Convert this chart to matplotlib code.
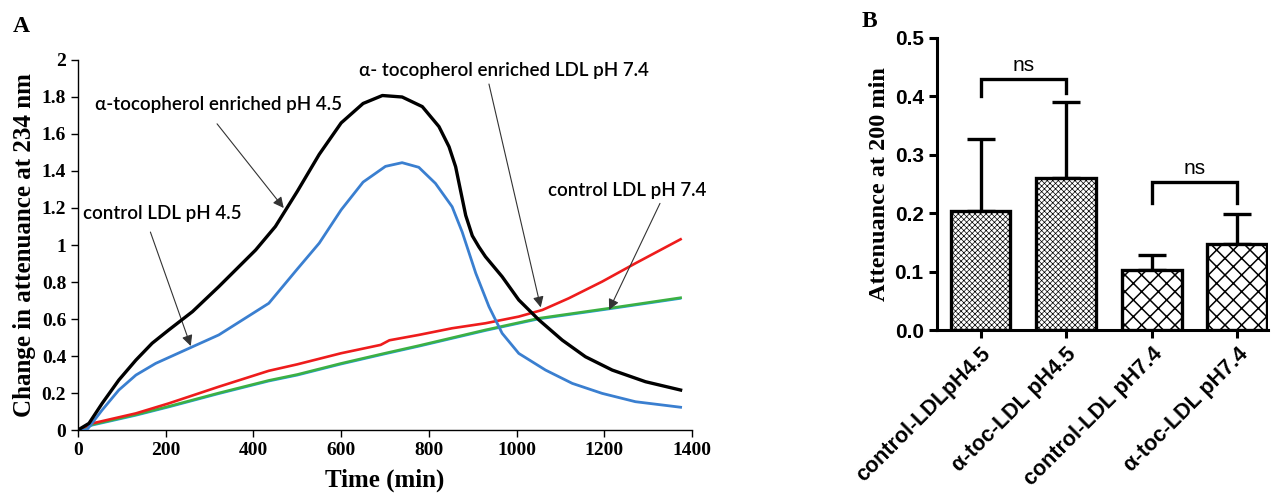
import numpy as np
import matplotlib
matplotlib.use("Agg")
import matplotlib.pyplot as plt
from matplotlib.ticker import FormatStrFormatter

# ---- panel A: attenuance kinetics ----
t_toc45 = [0, 25, 55, 93, 132, 169, 207, 261, 321, 405, 450, 500, 550, 600, 650,
           694, 739, 785, 823, 846, 861, 872, 884, 899, 914, 929, 967, 1005, 1051,
           1104, 1157, 1218, 1294, 1374]
toc_ph45 = [0.0, 0.036, 0.144, 0.27, 0.378, 0.469, 0.541, 0.64, 0.775, 0.973, 1.10,
            1.29, 1.49, 1.66, 1.765, 1.808, 1.80, 1.748, 1.64, 1.531, 1.423,
            1.297, 1.16, 1.05, 0.99, 0.937, 0.829, 0.703, 0.595, 0.486, 0.396, 0.324,
            0.261, 0.216]
t_ctrl45 = [0, 20, 55, 93, 132, 177, 261, 321, 435, 500, 550, 600, 650, 701, 739,
            777, 815, 853, 876, 907, 937, 967, 1005, 1066, 1127, 1195, 1271, 1374]
ctrl_ph45 = [0.0, 0.0, 0.108, 0.216, 0.297, 0.36, 0.45, 0.514, 0.685, 0.87, 1.01,
             1.19, 1.34, 1.425, 1.445, 1.42, 1.333, 1.207, 1.07, 0.847, 0.667, 0.523,
             0.414, 0.324, 0.252, 0.198, 0.153, 0.123]
t_toc74 = [0, 33, 132, 207, 321, 435, 500, 600, 690, 710, 777, 853, 929, 1005, 1059,
           1119, 1195, 1271, 1374]
toc_ph74 = [0.0, 0.036, 0.09, 0.144, 0.234, 0.32, 0.355, 0.415, 0.46, 0.485, 0.514,
            0.55, 0.577, 0.613, 0.649, 0.712, 0.802, 0.901, 1.031]
t_ctrl74 = [0, 33, 132, 207, 321, 435, 500, 600, 700, 777, 929, 1051, 1211, 1374]
ctrl_ph74 = [0.0, 0.03, 0.083, 0.128, 0.2, 0.268, 0.30, 0.36, 0.415, 0.456, 0.541,
             0.604, 0.658, 0.715]

# ---- panel B: attenuance at 200 min ----
groups = ["control-LDLpH4.5", "\u03b1-toc-LDL pH4.5", "control-LDL pH7.4", "\u03b1-toc-LDL pH7.4"]
means = [0.204, 0.261, 0.103, 0.147]
err_up = [0.123, 0.129, 0.026, 0.051]
hatches = ["xxxxxx", "xxxxxx", "xx", "xx"]

serif = ["Liberation Serif", "DejaVu Serif"]
sans = ["Liberation Sans", "DejaVu Sans"]
note = ["Lato", "DejaVu Sans"]

fig = plt.figure(figsize=(12.73, 4.95), dpi=100)

# ================= A =================
ax = fig.add_axes([0.0613, 0.1313, 0.4823, 0.7475])
ax.plot(t_ctrl74, np.array(ctrl_ph74) - 0.006, color="#2aa0e0", lw=1.2, zorder=2)
ax.plot(t_ctrl74, ctrl_ph74, color="#3cb043", lw=1.9, zorder=3)
ax.plot(t_toc74, toc_ph74, color="#ee1c1c", lw=1.9, zorder=3)
ax.plot(t_ctrl45, ctrl_ph45, color="#3a7fd0", lw=2.0, zorder=4)
ax.plot(t_toc45, toc_ph45, color="black", lw=2.4, zorder=5)

ax.set_xlim(0, 1400)
ax.set_ylim(0, 2)
ax.set_xticks(np.arange(0, 1401, 200))
ax.set_yticks(np.arange(0, 2.01, 0.2))
ax.set_yticklabels(["0", "0.2", "0.4", "0.6", "0.8", "1", "1.2", "1.4", "1.6", "1.8", "2"])
for s in ["top", "right"]:
    ax.spines[s].set_visible(False)
for s in ["left", "bottom"]:
    ax.spines[s].set_linewidth(1.0)
ax.tick_params(direction="out", length=5, width=1.0, labelsize=14)
for lab in ax.get_xticklabels() + ax.get_yticklabels():
    lab.set_family(serif)
    lab.set_fontweight("bold")
ax.set_xlabel("Time (min)", family=serif, fontweight="bold", fontsize=18, labelpad=7)
ax.set_ylabel("Change in attenuance at 234 nm", family=serif, fontweight="bold",
              fontsize=18, labelpad=4)

arrow = dict(arrowstyle="-|>", color="#333333", lw=0.8, mutation_scale=16,
             shrinkA=0, shrinkB=0)
# (text, text position, arrow tail, arrow head)
notes = [
    ("\u03b1-tocopherol enriched pH 4.5", (39, 1.762), (317, 1.655), (469, 1.20)),
    ("control LDL pH 4.5", (11, 1.171), (165, 1.07), (257, 0.454)),
    ("\u03b1- tocopherol enriched LDL pH 7.4", (640, 1.943), (937, 1.87), (1055, 0.663)),
    ("control LDL pH 7.4", (1072, 1.297), (1327, 1.225), (1211, 0.649)),
]
for txt, pos, tail, head in notes:
    ax.text(pos[0], pos[1], txt, ha="left", va="center", fontsize=13.5, family=note,
            fontweight="semibold", clip_on=False)
    ax.annotate("", xy=head, xytext=tail, arrowprops=arrow, annotation_clip=False)

fig.text(0.010, 0.935, "A", family=serif, fontweight="bold", fontsize=17)

# ================= B =================
bx = fig.add_axes([0.736, 0.3333, 0.260, 0.590])
x = np.arange(len(groups))
for i in range(len(groups)):
    lw_h = 0.5 if i < 2 else 1.1
    with plt.rc_context({"hatch.linewidth": lw_h, "hatch.color": "black"}):
        b = bx.bar(x[i], means[i], width=0.7, color="white", edgecolor="black",
                   linewidth=2.4, hatch=hatches[i], zorder=3)
    for p in b:
        if hasattr(p, "set_hatch_linewidth"):
            p.set_hatch_linewidth(lw_h)
bx.errorbar(x, means, yerr=[np.zeros(len(means)), err_up], fmt="none", ecolor="black",
            elinewidth=2.4, capsize=10, capthick=2.4, zorder=2)

bx.set_xlim(-0.51, 3.36)
bx.set_ylim(0, 0.5)
bx.set_yticks(np.arange(0, 0.51, 0.1))
bx.yaxis.set_major_formatter(FormatStrFormatter("%.1f"))
bx.set_xticks(x)
bx.set_xticklabels(groups, rotation=45, ha="right", rotation_mode="anchor")
for s in ["top", "right"]:
    bx.spines[s].set_visible(False)
for s in ["left", "bottom"]:
    bx.spines[s].set_linewidth(2.2)
bx.tick_params(direction="out", length=6, width=2.2, labelsize=15)
for lab in bx.get_xticklabels():
    lab.set_family(sans)
    lab.set_fontweight("bold")
    lab.set_fontsize(15.5)
for lab in bx.get_yticklabels():
    lab.set_family(sans)
    lab.set_fontweight("bold")
bx.set_ylabel("Attenuance at 200 min", family=serif, fontweight="bold", fontsize=17.5,
              labelpad=3)

# significance brackets
brackets = [(0, 1, 0.429, 0.400, 0.406), (2, 3, 0.253, 0.217, 0.217)]
for a, c, top, la, lc in brackets:
    bx.plot([a, a, c, c], [la, top, top, lc], color="black", lw=2.4,
            solid_joinstyle="miter", zorder=4)
    bx.text((a + c) / 2, top + 0.008, "ns", ha="center", va="bottom", fontsize=15,
            family=sans)

fig.text(0.677, 0.945, "B", family=serif, fontweight="bold", fontsize=17)

fig.savefig("out.png", dpi=100)
